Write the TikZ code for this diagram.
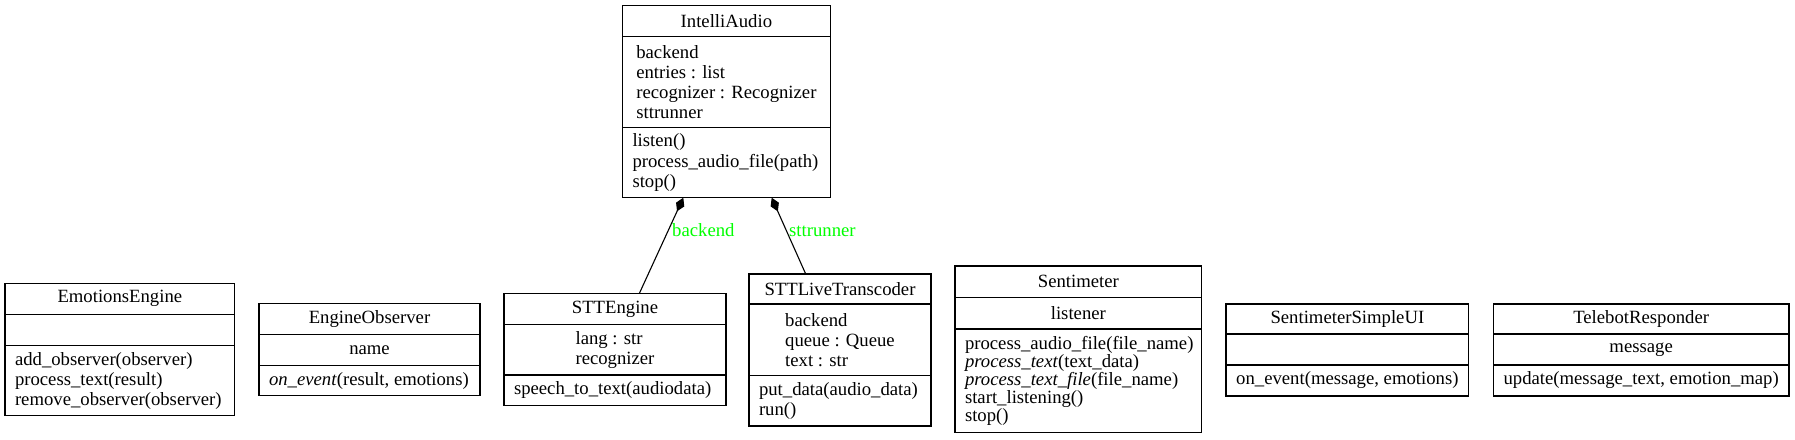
\documentclass[tikz,border=0pt]{standalone}
\usepackage{fontspec}
\setmainfont{Liberation Serif}
\usetikzlibrary{arrows.meta,calc}
\definecolor{lblgreen}{RGB}{0,255,0}
\tikzset{
  comp/.style={draw=black, line width=1.1pt, inner sep=0pt, outer sep=0pt, anchor=north west},
  txt/.style={inner sep=0pt, outer sep=0pt, align=left, font=\fontsize{18.7}{20}\selectfont},
  tightxt/.style={txt, font=\fontsize{18.7}{14.8}\selectfont},
  lbl/.style={inner sep=0pt, text=lblgreen, font=\fontsize{18.7}{20}\selectfont, anchor=base west},
  compo/.style={draw=black, line width=1.1pt, {Diamond[length=15pt,width=9pt]}-}
}
\begin{document}
\begin{tikzpicture}[x=1pt,y=-1pt]
\useasboundingbox (0,0) rectangle (1795,439);

% EmotionsEngine
\node[comp, minimum width=229.7, minimum height=31] (ee-t) at (5,283.3) {};
\node[comp, minimum width=229.7, minimum height=31] (ee-a) at (5,314.3) {};
\node[comp, minimum width=229.7, minimum height=70.4] (ee-m) at (5,345.3) {};
\node[txt] (ee-tt) at (ee-t.center) {EmotionsEngine};
\node[txt, anchor=west] (ee-mt) at ($(ee-m.west)+(10,0)$) {add\_observer(observer)\\process\_text(result)\\remove\_observer(observer)};

% EngineObserver
\node[comp, minimum width=221, minimum height=31] (eo-t) at (259,303.7) {};
\node[comp, minimum width=221, minimum height=30.6] (eo-a) at (259,334.7) {};
\node[comp, minimum width=221, minimum height=30.4] (eo-m) at (259,365.3) {};
\node[txt] (eo-tt) at (eo-t.center) {EngineObserver};
\node[txt] (eo-at) at (eo-a.center) {name};
\node[txt, anchor=west] (eo-mt) at ($(eo-m.west)+(10,0)$) {\textit{on\_event}(result, emotions)};

% STTEngine
\node[comp, minimum width=222, minimum height=31] (ste-t) at (504,293.5) {};
\node[comp, minimum width=222, minimum height=50.5] (ste-a) at (504,324.5) {};
\node[comp, minimum width=222, minimum height=30.7] (ste-m) at (504,375) {};
\node[txt] (ste-tt) at (ste-t.center) {STTEngine};
\node[txt] (ste-at) at (ste-a.center) {lang : str\\recognizer};
\node[txt, anchor=west] (ste-mt) at ($(ste-m.west)+(10,0)$) {speech\_to\_text(audiodata)};

% IntelliAudio
\node[comp, minimum width=207.8, minimum height=30.6] (ia-t) at (622.5,5.7) {};
\node[comp, minimum width=207.8, minimum height=91] (ia-a) at (622.5,36.3) {};
\node[comp, minimum width=207.8, minimum height=70.4] (ia-m) at (622.5,127.3) {};
\node[txt] (ia-tt) at (ia-t.center) {IntelliAudio};
\node[txt] (ia-at) at (ia-a.center) {backend\\entries : list\\recognizer : Recognizer\\sttrunner};
\node[txt, anchor=west] (ia-mt) at ($(ia-m.west)+(10,0)$) {listen()\\process\_audio\_file(path)\\stop()};

% STTLiveTranscoder
\node[comp, minimum width=182, minimum height=30] (stl-t) at (749,274) {};
\node[comp, minimum width=182, minimum height=71.3] (stl-a) at (749,304) {};
\node[comp, minimum width=182, minimum height=50.7] (stl-m) at (749,375.3) {};
\node[txt] (stl-tt) at (stl-t.center) {STTLiveTranscoder};
\node[txt] (stl-at) at (stl-a.center) {backend\\queue : Queue\\text : str};
\node[txt, anchor=west] (stl-mt) at ($(stl-m.west)+(10,0)$) {put\_data(audio\_data)\\run()};

% Sentimeter
\node[comp, minimum width=246.7, minimum height=31.7] (sm-t) at (955,266) {};
\node[comp, minimum width=246.7, minimum height=31.3] (sm-a) at (955,297.7) {};
\node[comp, minimum width=246.7, minimum height=103.3] (sm-m) at (955,329) {};
\node[txt] (sm-tt) at (sm-t.center) {Sentimeter};
\node[txt] (sm-at) at (sm-a.center) {listener};
\node[tightxt, anchor=west] (sm-mt) at ($(sm-m.west)+(10,0)$) {process\_audio\_file(file\_name)\\\textit{process\_text}(text\_data)\\\textit{process\_text\_file}(file\_name)\\start\_listening()\\stop()};

% SentimeterSimpleUI
\node[comp, minimum width=242.7, minimum height=30] (su-t) at (1226,304) {};
\node[comp, minimum width=242.7, minimum height=31] (su-a) at (1226,334) {};
\node[comp, minimum width=242.7, minimum height=31] (su-m) at (1226,365) {};
\node[txt] (su-tt) at (su-t.center) {SentimeterSimpleUI};
\node[txt] (su-mt) at (su-m.center) {on\_event(message, emotions)};

% TelebotResponder
\node[comp, minimum width=295.7, minimum height=30] (tb-t) at (1493.3,304) {};
\node[comp, minimum width=295.7, minimum height=31] (tb-a) at (1493.3,334) {};
\node[comp, minimum width=295.7, minimum height=31] (tb-m) at (1493.3,365) {};
\node[txt] (tb-tt) at (tb-t.center) {TelebotResponder};
\node[txt] (tb-at) at (tb-a.center) {message};
\node[txt] (tb-mt) at (tb-m.center) {update(message\_text, emotion\_map)};

% composition connectors
\draw[compo] ($(ia-m.south west)+(60.8,0)$) -- ($(ste-t.north west)+(135.3,0)$);
\draw[compo] ($(ia-m.south west)+(149.2,0)$) -- ($(stl-t.north west)+(56.7,0)$);
\node[lbl] (lb-backend) at (672,236.7) {backend};
\node[lbl] (lb-sttrunner) at (789,236.7) {sttrunner};
\end{tikzpicture}
\end{document}
